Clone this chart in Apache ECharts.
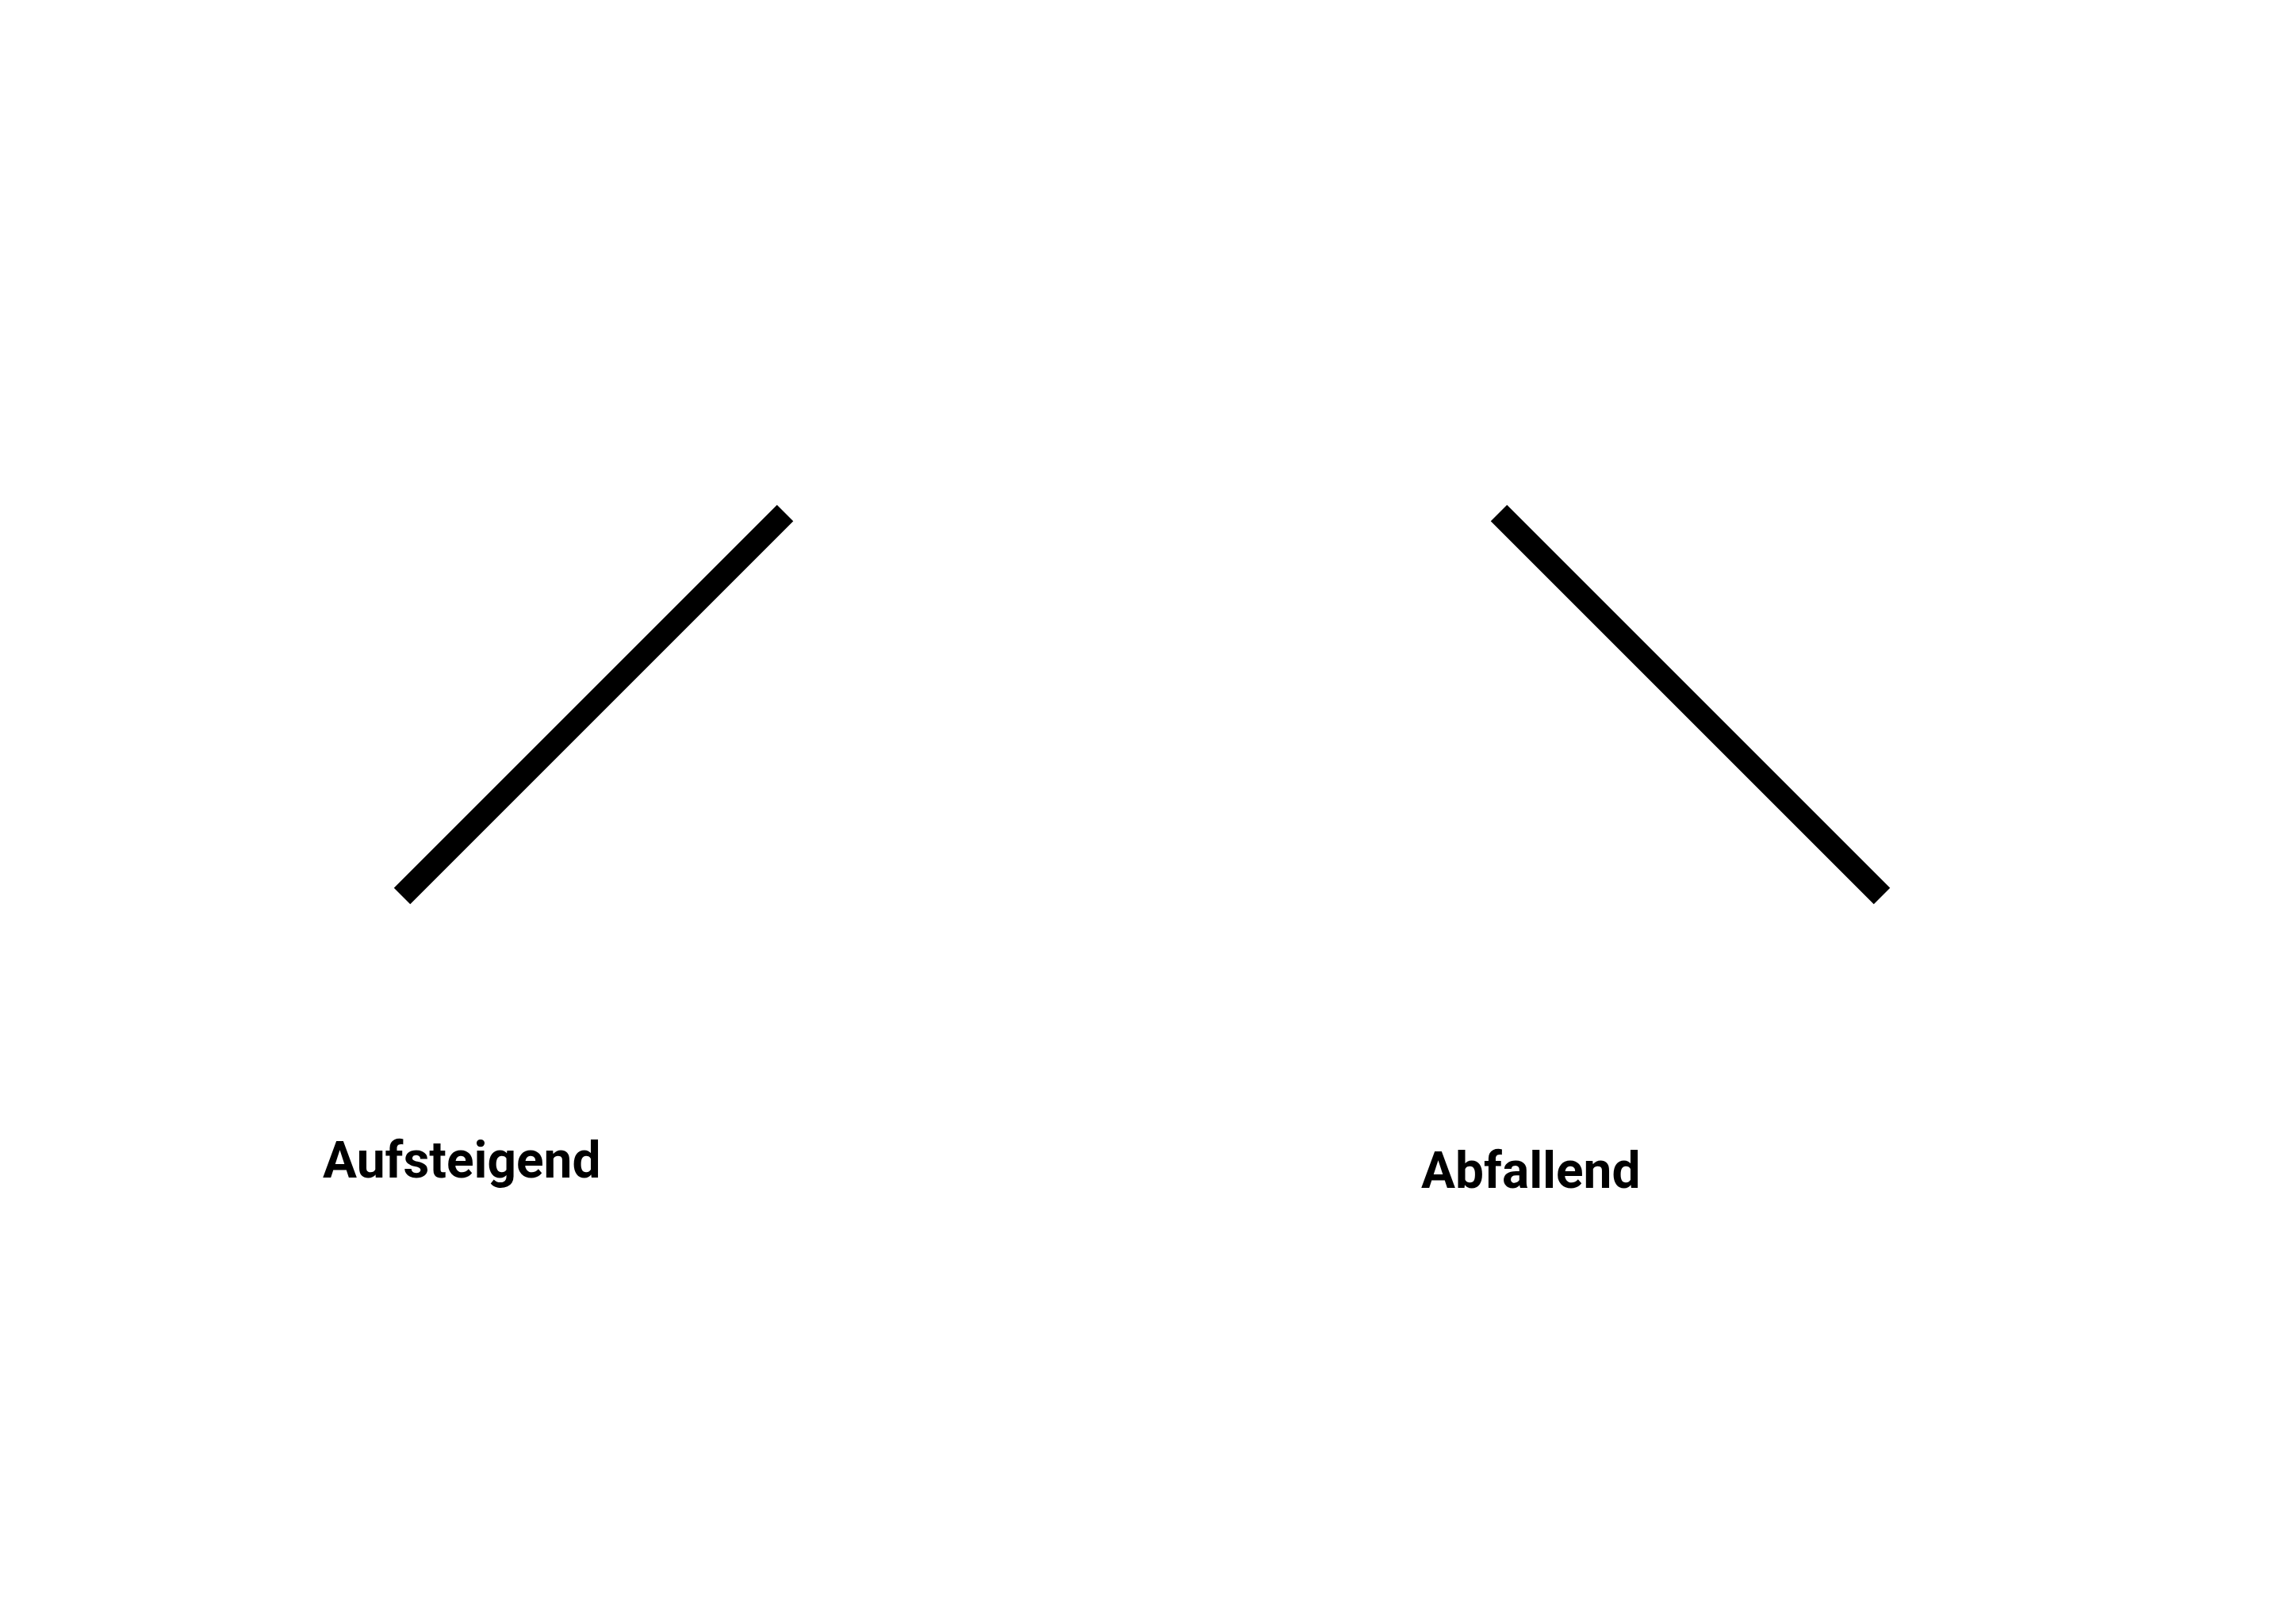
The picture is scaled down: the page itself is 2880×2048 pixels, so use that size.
<!DOCTYPE html>
<html>
<head>
<meta charset="utf-8">
<script src="https://cdn.jsdelivr.net/npm/echarts@6/dist/echarts.min.js"></script>
<style>
  html, body { margin: 0; padding: 0; background: #fff; }
  #chart { width: 2880px; height: 2048px; }
</style>
</head>
<body>
<div id="chart"></div>
<script>
// panel titles
const panelNames = ['Aufsteigend', 'Abfallend'];
// x positions of the two points in each panel
const xPoints = [0, 1];
// y values per panel
const risingValues = [0, 1];
const fallingValues = [1, 0];

const chart = echarts.init(document.getElementById('chart'));

const hiddenAxis = (i) => ({
  type: 'value', gridIndex: i, min: 0, max: 1, show: false
});

const labelStyle = { fontFamily: 'Roboto', fontWeight: 'bold', fontSize: 64, color: '#000' };

chart.setOption({
  backgroundColor: '#ffffff',
  animation: false,
  title: [
    { text: panelNames[0], left: 407, top: 1437, padding: 0, textStyle: labelStyle },
    { text: panelNames[1], left: 1792, top: 1450, padding: 0, textStyle: labelStyle }
  ],
  grid: [
    { left: 507, top: 647, width: 483, height: 483 },
    { left: 1890, top: 647, width: 483, height: 483 }
  ],
  xAxis: [hiddenAxis(0), hiddenAxis(1)],
  yAxis: [hiddenAxis(0), hiddenAxis(1)],
  series: [
    {
      type: 'line', xAxisIndex: 0, yAxisIndex: 0,
      data: xPoints.map((x, i) => [x, risingValues[i]]),
      symbol: 'none',
      lineStyle: { color: '#000', width: 29, cap: 'butt' }
    },
    {
      type: 'line', xAxisIndex: 1, yAxisIndex: 1,
      data: xPoints.map((x, i) => [x, fallingValues[i]]),
      symbol: 'none',
      lineStyle: { color: '#000', width: 29, cap: 'butt' }
    }
  ]
});
</script>
</body>
</html>
